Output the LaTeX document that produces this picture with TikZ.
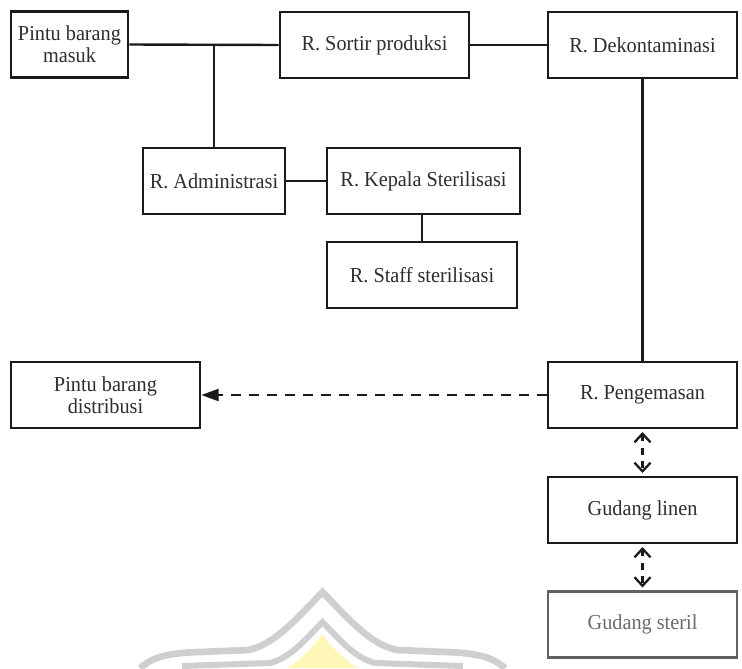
\documentclass[tikz,border=0pt]{standalone}
\usepackage{fontspec}
\setmainfont[FakeStretch=0.95]{Liberation Serif}
\usetikzlibrary{arrows.meta}

\definecolor{ink}{HTML}{1A1A1A}
\definecolor{txt}{HTML}{2E2E2E}
\definecolor{wmgray}{HTML}{CFCFCF}
\definecolor{wmyellow}{HTML}{FFF6B8}

\tikzset{
  room/.style={draw=ink, line width=2pt, fill=white, align=center,
    text=txt, inner sep=0pt, minimum height=49.5pt,
    font=\fontsize{16}{16.5}\selectfont},
  link/.style={draw=ink, line width=1.8pt},
  flow/.style={draw=ink, line width=1.7pt, dash pattern=on 7.5pt off 6pt},
  twoway/.style={draw=ink, line width=1.7pt, dash pattern=on 5pt off 5pt,
    {Straight Barb[length=6.5pt,width=12pt]}-{Straight Barb[length=6.5pt,width=12pt]}},
}

\begin{document}
\begin{tikzpicture}[x=0.75pt,y=-0.75pt]
  \useasboundingbox (0,0) rectangle (742,668);
  \fill[white] (0,0) rectangle (742,668);

  % faint emblem in the lower middle
  \fill[wmyellow] (322,634) .. controls (332,648) and (345,660) .. (358,668)
     -- (287,668) .. controls (300,660) and (313,648) .. cycle;
  \draw[wmgray, line width=5pt]
     (140,668) .. controls (150,660) and (160,653) .. (200,652)
     -- (248,650) .. controls (275,645) and (300,615) .. (322.5,592)
     .. controls (345,615) and (370,645) .. (397,650)
     -- (445,652) .. controls (485,653) and (495,660) .. (505,668);
  \draw[wmgray, line width=4.5pt]
     (182,666) -- (270,663) .. controls (290,658) and (305,640) .. (322.5,622)
     .. controls (340,640) and (355,658) .. (375,663) -- (463,666);

  % rooms
  \node[room, minimum width=87.75pt]  (masuk)  at (69.5,44.5) {Pintu barang\\masuk};
  \node[room, minimum width=141.75pt] (sortir) at (374.5,45)  {R. Sortir produksi};
  \node[room, minimum width=141.75pt] (dekon)  at (642.5,45)  {R. Dekontaminasi};
  \node[room, minimum width=106.5pt]  (admin)  at (214,181)   {R. Administrasi};
  \node[room, minimum width=144.75pt] (kepala) at (423.5,181) {R. Kepala Sterilisasi};
  \node[room, minimum width=142.5pt]  (staff)  at (422,275)   {R. Staff sterilisasi};
  \node[room, minimum width=141.75pt] (distri) at (105.5,395) {Pintu barang\\distribusi};
  \node[room, minimum width=141.75pt] (kemas)  at (642.5,395) {R. Pengemasan};
  \node[room, minimum width=141.75pt] (linen)  at (642.5,510) {Gudang linen};
  \node[room, minimum width=141.75pt, draw=black!62, text=black!58]
                                      (steril) at (642.5,624.5) {Gudang steril};

  % solid connections
  \coordinate (tee) at (admin.north |- masuk.east);
  \draw[link] (masuk.east) -- (sortir.west);
  \draw[link] (tee) -- (admin.north);
  \draw[link] (sortir.east) -- (dekon.west);
  \draw[link] (admin.east) -- (kepala.west);
  \draw[link] (kepala.south -| staff.north) -- (staff.north);
  \draw[link] (dekon.south) -- (kemas.north);

  % goods flow
  \draw[flow, -{Triangle[length=13pt,width=9pt]}] (kemas.west) -- (distri.east);
  \draw[twoway] ([yshift=-2pt]kemas.south) -- ([yshift=2pt]linen.north);
  \draw[twoway] ([yshift=-2pt]linen.south) -- ([yshift=2pt]steril.north);
\end{tikzpicture}
\end{document}
